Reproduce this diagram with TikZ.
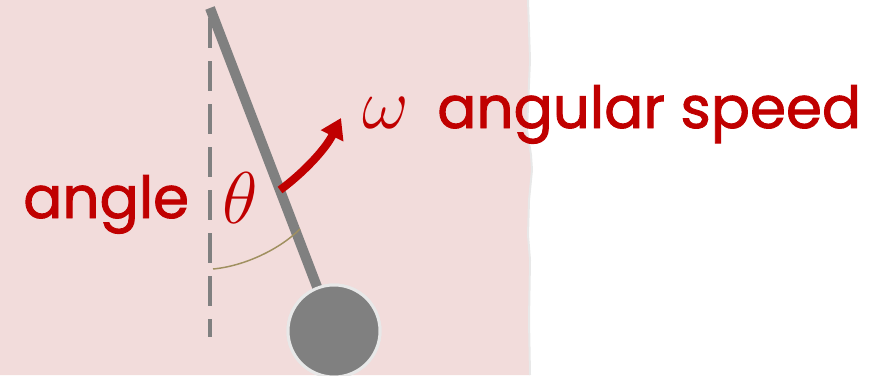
\RequirePackage{fix-cm}
\documentclass[tikz,border=0pt]{standalone}
\usepackage{fontspec}
\setmainfont{Poppins}[FakeBold=1.6]
\usepackage{tikz}
\usetikzlibrary{arrows.meta, positioning, calc}

\definecolor{rosa}{HTML}{F2DCDB}
\definecolor{rojo}{HTML}{C00000}
\definecolor{gris}{HTML}{808080}
\definecolor{borde}{HTML}{E8E8E8}
\definecolor{oliva}{HTML}{A09060}

\begin{document}
\begin{tikzpicture}[x=0.75pt, y=-0.75pt,
        etiqueta/.style={text=rojo, inner sep=0pt, font=\fontsize{43.5}{43.5}\selectfont},
        letra/.style={text=rojo, inner sep=0pt},
        flecha/.style={-{Triangle[length=15pt, width=18pt]}, rojo, line width=6pt},
        varilla/.style={gris, line width=7.5pt},
        vertical/.style={gris, line width=3pt, dash pattern=on 22.5pt off 9.75pt},
        bola/.style={circle, fill=gris, draw=borde, line width=2.25pt, minimum size=69pt, inner sep=0pt}]
        \useasboundingbox (0,0) rectangle (887,375);
        % fondo
        \fill[rosa] (0,0) -- (528,0) -- (530,60) -- (527,130) -- (531,155) -- (532,170) -- (529,200)
            -- (528,235) -- (530,260) -- (529,320) -- (530,375) -- (0,375) -- cycle;
        \draw[borde, line width=1.5pt] (528,0) -- (530,60) -- (527,130) -- (531,155) -- (532,170) -- (529,200)
            -- (528,235) -- (530,260) -- (529,320) -- (530,375);
        % pendulo
        \coordinate (pivote) at (210,8);
        \coordinate (abajo) at (210,337);
        \node[bola] (masa) at (334,331) {};
        \draw[vertical] (210,18) -- (abajo);
        \draw[varilla] (pivote) -- (masa.center);
        \node[bola] at (masa) {};
        \draw[oliva, line width=1.1pt] (213,269) .. controls (245,266) and (280,249) .. (300,229);
        % velocidad
        \coordinate (inicio) at (280,190);
        \coordinate (punta) at (341,118);
        \draw[flecha] (inicio) .. controls (302,174) and (325,150) .. (punta);
        % textos
        \node[etiqueta, anchor=base west] (angulo) at (23,218) {angle};
        \node[letra, font=\fontsize{55}{55}\selectfont] (theta) at (240,198) {$\theta$};
        \node[letra, font=\fontsize{54}{54}\selectfont, anchor=base west] (omega) at (362,128) {$\omega$};
        \node[etiqueta, anchor=base west] (velocidad) at (437,128) {angular speed};
    \end{tikzpicture}
\end{document}
